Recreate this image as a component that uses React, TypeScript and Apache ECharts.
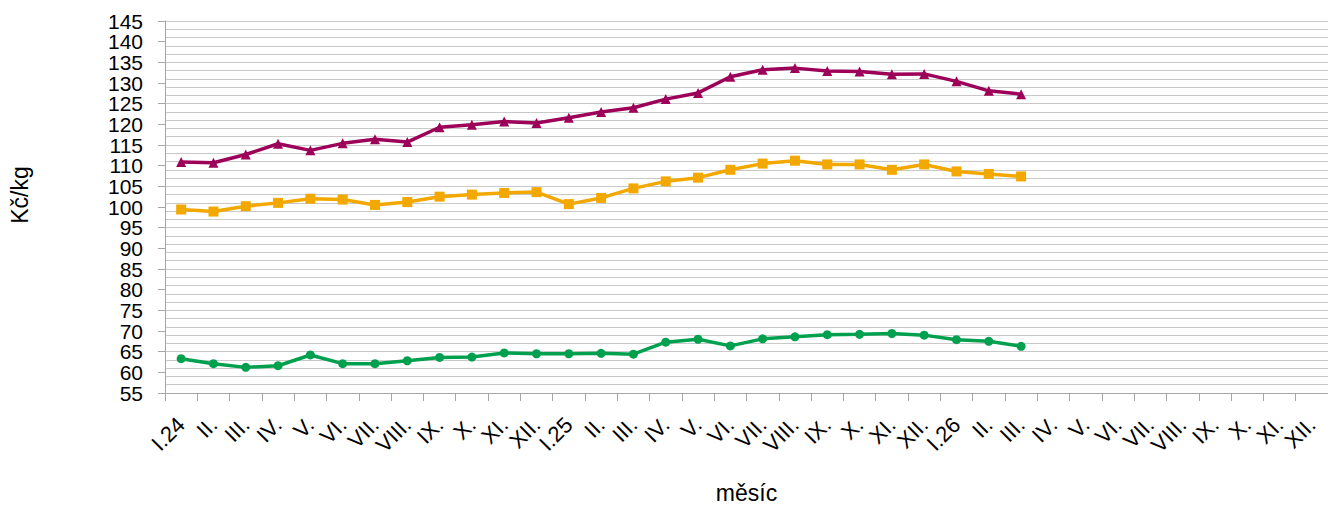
import React, { useEffect, useRef } from "react";
import * as echarts from "echarts";

const categories: string[] = [
  "I.24", "II.", "III.", "IV.", "V.", "VI.", "VII.", "VIII.", "IX.", "X.", "XI.", "XII.",
  "I.25", "II.", "III.", "IV.", "V.", "VI.", "VII.", "VIII.", "IX.", "X.", "XI.", "XII.",
  "I.26", "II.", "III.", "IV.", "V.", "VI.", "VII.", "VIII.", "IX.", "X.", "XI.", "XII.",
];

const seriesPurple: number[] = [
  110.9, 110.7, 112.7, 115.3, 113.7, 115.4, 116.4, 115.7, 119.3, 119.9, 120.7, 120.3,
  121.6, 123.0, 124.0, 126.1, 127.6, 131.5, 133.2, 133.6, 132.9, 132.8, 132.1, 132.2,
  130.4, 128.1, 127.3,
];
const seriesOrange: number[] = [
  99.4, 98.9, 100.2, 101.0, 102.0, 101.8, 100.5, 101.2, 102.5, 103.0, 103.4, 103.6,
  100.7, 102.2, 104.5, 106.2, 107.1, 109.0, 110.5, 111.2, 110.3, 110.3, 109.0, 110.3,
  108.6, 108.0, 107.4,
];
const seriesGreen: number[] = [
  63.3, 62.1, 61.2, 61.6, 64.2, 62.1, 62.1, 62.8, 63.6, 63.7, 64.7, 64.5,
  64.5, 64.6, 64.4, 67.3, 68.0, 66.4, 68.1, 68.6, 69.1, 69.2, 69.4, 69.0,
  67.9, 67.5, 66.3,
];

const yMin = 55;
const yMax = 145;
const yLabelStep = 5;
const yGridStep = 2;

export default function App() {
  const ref = useRef<HTMLDivElement>(null);
  useEffect(() => {
    if (!ref.current) return;
    const chart = echarts.init(ref.current, null, { renderer: "svg" });
    const font = "'Liberation Sans', Arial, sans-serif";
    const axisGray = "#a6a6a6";
    const labelStyle = {
      margin: 22,
      fontFamily: font,
      fontSize: 21,
      lineHeight: 20,
      color: "#000",
    };
    chart.setOption({
      animation: false,
      backgroundColor: "#ffffff",
      grid: { left: 162, right: 0, top: 21, bottom: 114, containLabel: false },
      xAxis: {
        type: "category",
        data: categories,
        boundaryGap: true,
        name: "měsíc",
        nameLocation: "middle",
        nameGap: 88,
        nameTextStyle: { fontFamily: font, fontSize: 23, color: "#000" },
        axisLine: { show: true, lineStyle: { color: axisGray, width: 1 } },
        axisTick: { show: true, length: 8, interval: 0, lineStyle: { color: axisGray } },
        axisLabel: {
          interval: 0,
          rotate: 45,
          margin: 28,
          fontFamily: font,
          fontSize: 22,
          color: "#000",
        },
        splitLine: { show: false },
      },
      yAxis: [
        {
          // main axis: line, ticks every 5, labels 60, 70, ... 140
          type: "value",
          min: yMin,
          max: yMax,
          interval: yLabelStep,
          name: "Kč/kg",
          nameLocation: "middle",
          nameGap: 134,
          nameTextStyle: { fontFamily: font, fontSize: 23, color: "#000", padding: [0, 0, 0, 24] },
          axisLine: { show: true, lineStyle: { color: axisGray, width: 1 } },
          axisTick: { show: true, length: 7, lineStyle: { color: axisGray } },
          axisLabel: {
            ...labelStyle,
            showMinLabel: true,
            showMaxLabel: true,
            formatter: (v: number) => ((v - yMin) % (2 * yLabelStep) === 0 ? "" : String(v)),
          },
          splitLine: { show: false },
        },
        {
          // grid lines every 2 from 55
          type: "value",
          min: yMin,
          max: yMax,
          interval: yGridStep,
          position: "left",
          axisLine: { show: false },
          axisTick: { show: false },
          axisLabel: { show: false },
          splitLine: { show: true, lineStyle: { color: "#c9c9c9", width: 1 } },
        },
        {
          // labels 55, 65, ... 145
          type: "value",
          min: yMin,
          max: yMax,
          interval: 2 * yLabelStep,
          position: "left",
          axisLine: { show: false },
          axisTick: { show: false },
          axisLabel: { ...labelStyle, showMinLabel: true, showMaxLabel: true },
          splitLine: { show: false },
        },
      ],
      series: [
        {
          name: "řada 1",
          type: "line",
          yAxisIndex: 0,
          data: seriesPurple,
          symbol: "triangle",
          symbolSize: 10,
          lineStyle: { color: "#9c0059", width: 3.5 },
          itemStyle: { color: "#9c0059" },
          z: 5,
        },
        {
          name: "řada 2",
          type: "line",
          yAxisIndex: 0,
          data: seriesOrange,
          symbol: "rect",
          symbolSize: 10,
          lineStyle: { color: "#f3a800", width: 3.5 },
          itemStyle: { color: "#f3a800" },
          z: 5,
        },
        {
          name: "řada 3",
          type: "line",
          yAxisIndex: 0,
          data: seriesGreen,
          symbol: "circle",
          symbolSize: 9,
          lineStyle: { color: "#00a04f", width: 3.5 },
          itemStyle: { color: "#00a04f" },
          z: 5,
        },
      ],
    });
    return () => chart.dispose();
  }, []);
  return (
    <div
      ref={ref}
      style={{ position: "fixed", left: 0, top: 0, width: 1328, height: 509, background: "#fff" }}
    />
  );
}
